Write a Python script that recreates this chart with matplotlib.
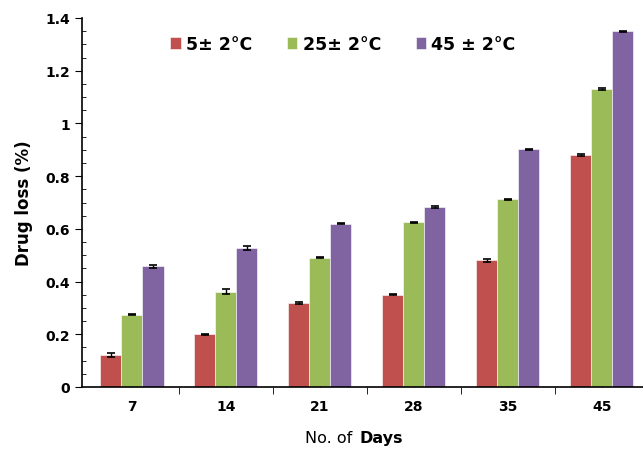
import matplotlib.pyplot as plt
import numpy as np
from matplotlib.ticker import MultipleLocator, FuncFormatter
from matplotlib.offsetbox import TextArea, HPacker, AnchoredOffsetbox

days = ['7', '14', '21', '28', '35', '45']
series_names = ['5\u00b1 2\u00b0C', '25\u00b1 2\u00b0C', '45 \u00b1 2\u00b0C']
loss_5 = [0.12, 0.20, 0.32, 0.35, 0.48, 0.88]
loss_25 = [0.275, 0.362, 0.49, 0.625, 0.712, 1.13]
loss_45 = [0.458, 0.527, 0.62, 0.683, 0.902, 1.35]
err_5 = [0.008, 0.002, 0.004, 0.002, 0.005, 0.004]
err_25 = [0.003, 0.008, 0.002, 0.002, 0.002, 0.003]
err_45 = [0.006, 0.008, 0.003, 0.002, 0.002, 0.002]
colors = ['#C0504D', '#9BBB59', '#8064A2']

fig = plt.figure(figsize=(6.43, 4.52), dpi=100)
ax = fig.add_axes([82 / 643, 1 - 388 / 452, 1 - 82 / 643, 369 / 452])

x = np.arange(len(days))
w = 0.225
for i, (vals, errs) in enumerate([(loss_5, err_5), (loss_25, err_25), (loss_45, err_45)]):
    ax.bar(x + (i - 1) * w, vals, w, color=colors[i], label=series_names[i],
           edgecolor='white', linewidth=0.4, zorder=2)
    ax.errorbar(x + (i - 1) * w, vals, yerr=errs, fmt='none', ecolor='black',
                elinewidth=1, capsize=3, capthick=1.2, zorder=3)

ax.set_xlim(-0.53, 5.44)
ax.set_ylim(0, 1.4)
ax.spines['top'].set_visible(False)
ax.spines['right'].set_visible(False)
ax.spines['left'].set_linewidth(1.2)
ax.spines['bottom'].set_linewidth(1.2)

# category labels at centres, boundary ticks between groups
ax.set_xticks(x)
ax.set_xticklabels(days, fontweight='bold', fontsize=10)
ax.tick_params(axis='x', which='major', direction='in', length=3, pad=9)
ax.set_xticks(np.arange(0.5, 5.5, 1), minor=True)
ax.tick_params(axis='x', which='minor', direction='out', length=5)

ax.yaxis.set_major_locator(MultipleLocator(0.2))
ax.yaxis.set_minor_locator(MultipleLocator(0.05))
ax.yaxis.set_major_formatter(FuncFormatter(lambda v, p: f'{v:g}'))
ax.tick_params(axis='y', which='major', direction='out', length=5, labelsize=10)
ax.tick_params(axis='y', which='minor', direction='in', length=3)
for lab in ax.get_yticklabels():
    lab.set_fontweight('bold')

ax.set_ylabel('Drug loss (%)', fontsize=12, fontweight='bold', labelpad=9)

# x label: "No. of" regular, "Days" bold
xlab = HPacker(children=[TextArea('No. of', textprops=dict(fontsize=11.5)),
                         TextArea('Days', textprops=dict(fontsize=11.5, fontweight='bold'))],
               align='baseline', pad=0, sep=5)
box = AnchoredOffsetbox(loc='center', child=xlab, frameon=False, pad=0,
                        bbox_to_anchor=(354 / 643, 1 - 439 / 452),
                        bbox_transform=fig.transFigure, borderpad=0)
fig.add_artist(box)

leg = ax.legend(loc='center', bbox_to_anchor=((343 - 82) / 561, 1 - 26 / 369), ncol=3,
                frameon=False, prop={'weight': 'bold', 'size': 12.5}, handlelength=0.6,
                handleheight=0.7, handletextpad=0.3, columnspacing=2.0)

fig.savefig('out.png', dpi=100)
